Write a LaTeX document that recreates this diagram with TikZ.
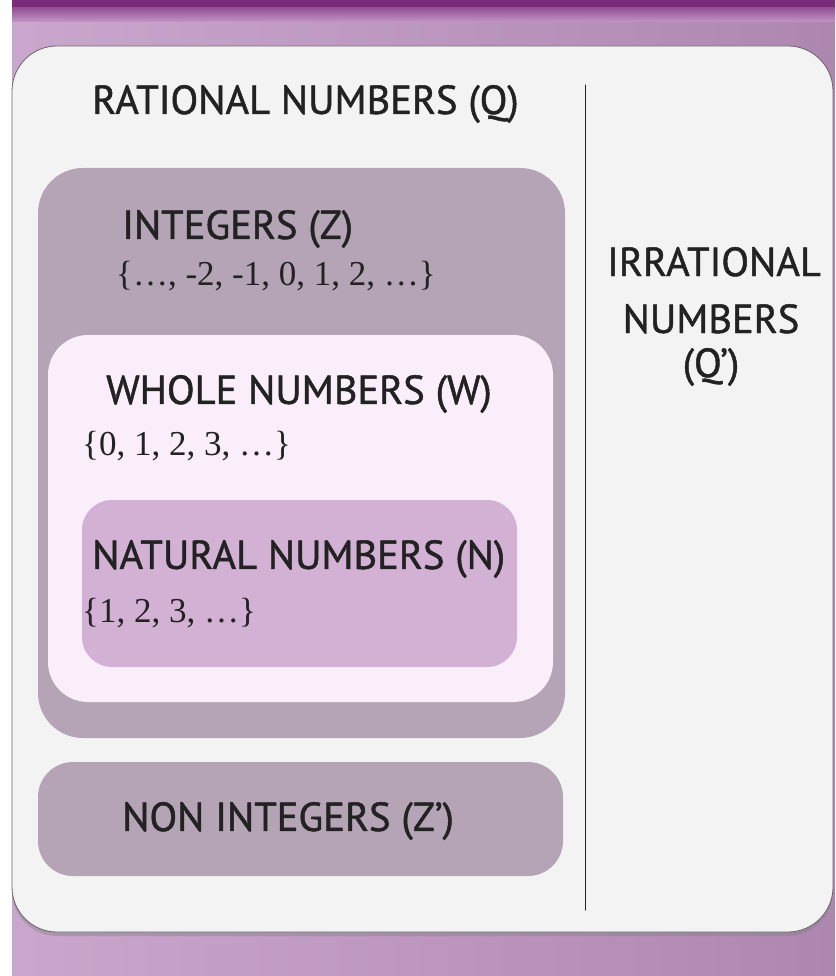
\documentclass[tikz,border=0pt]{standalone}
\usepackage{fontspec}
\setmainfont{Liberation Serif}
\setsansfont[FakeBold=1.2]{PT Sans}
\usetikzlibrary{shadows}

\definecolor{bandpurple}{HTML}{7B2A7A}
\definecolor{backpurple}{HTML}{C196C4}
\definecolor{paper}{HTML}{F3F3F3}
\definecolor{intmauve}{HTML}{B4A4B5}
\definecolor{wholepink}{HTML}{F9EEFA}
\definecolor{natlilac}{HTML}{D3B1D4}
\definecolor{inktext}{HTML}{222222}

\tikzset{
  setbox/.style={rounded corners=#1,draw=none},
  settitle/.style={anchor=west,inner sep=0pt,text=inktext,
    font=\sffamily\fontsize{40.5}{42}\selectfont},
  setlist/.style={anchor=west,inner sep=0pt,text=inktext,
    font=\rmfamily\fontsize{35}{38}\selectfont}
}

\begin{document}
\begin{tikzpicture}[x=1pt,y=-1pt,line cap=round,line join=round]
  \useasboundingbox (0,0) rectangle (835,976);
  % background
  \fill[white] (0,0) rectangle (835,976);
  \fill[backpurple] (12,0) rectangle (835,976);
  \shade[left color=backpurple!85!white,right color=backpurple!90!black]
    (12,8) rectangle (835,976);
  \shade[top color=bandpurple,bottom color=backpurple] (12,0) rectangle (835,22);
  \fill[bandpurple] (12,0) rectangle (835,7);
  % outer set
  \fill[paper,setbox=45pt,drop shadow={shadow xshift=0pt,shadow yshift=-4pt,opacity=0.4}]
    (12,46) rectangle (833,932);
  \draw[line width=0.8pt,black!60] (12,46) [rounded corners=45pt] rectangle (833,932);
  \draw[line width=1pt,inktext] (585,85) -- (585,910);
  % nested sets
  \fill[intmauve,setbox=45pt] (38,168) rectangle (565,738);
  \fill[wholepink,setbox=40pt] (48,335) rectangle (553,702);
  \fill[natlilac,setbox=30pt] (82,500) rectangle (517,667);
  \fill[intmauve,setbox=35pt] (38,762) rectangle (563,876);
  % labels
  \node[settitle] (rat) at (92,104) {RATIONAL NUMBERS (Q)};
  \node[settitle] (intg) at (122,229) {INTEGERS (Z)};
  \node[setlist] (intlist) at (116,276) {\{…, -2, -1, 0, 1, 2, …\}};
  \node[settitle] (whole) at (106,394) {WHOLE NUMBERS (W)};
  \node[setlist] (wholelist) at (82,446) {\{0, 1, 2, 3, …\}};
  \node[settitle] (nat) at (92,559) {NATURAL NUMBERS (N)};
  \node[setlist] (natlist) at (82,613) {\{1, 2, 3, …\}};
  \node[settitle] (nonint) at (122,821) {NON INTEGERS (Z')};
  \node[settitle,anchor=base,text depth=0pt] (irr) at (714,276) {IRRATIONAL};
  \node[settitle,anchor=base,text depth=0pt] (irrnum) at (711,333) {NUMBERS};
  \node[settitle,anchor=base,text depth=0pt] (irrsym) at (711,377) {(Q')};
\end{tikzpicture}
\end{document}
